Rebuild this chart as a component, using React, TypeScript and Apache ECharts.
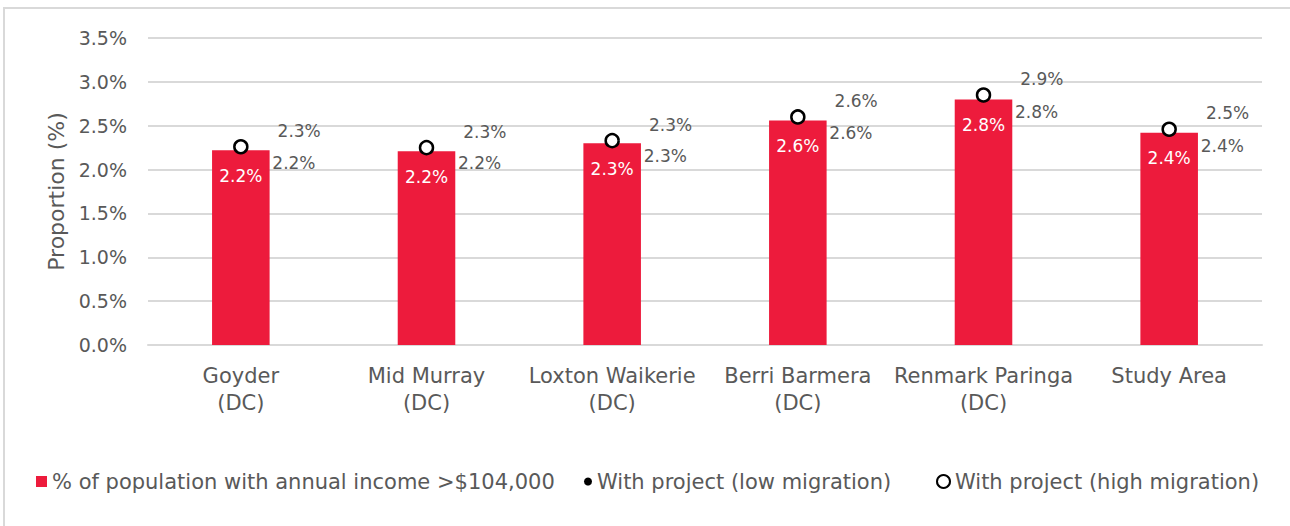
import React, { useEffect, useRef } from "react";
import * as echarts from "echarts";

const categories = [
  "Goyder\n(DC)",
  "Mid Murray\n(DC)",
  "Loxton Waikerie\n(DC)",
  "Berri Barmera\n(DC)",
  "Renmark Paringa\n(DC)",
  "Study Area",
];
const incomeShare = [2.22, 2.21, 2.3, 2.56, 2.8, 2.42];
const lowMigration = [2.24, 2.23, 2.31, 2.58, 2.82, 2.43];
const highMigration = [2.26, 2.25, 2.33, 2.6, 2.85, 2.46];
const yTicks = { min: 0, max: 3.5, interval: 0.5 };

const FONT = "DejaVu Sans";
const GREY = "#595959";

export default function App() {
  const ref = useRef<HTMLDivElement>(null);
  useEffect(() => {
    if (!ref.current) return;
    const chart = echarts.init(ref.current, null, { renderer: "svg" });
    const pct = (v: number) => v.toFixed(1) + "%";
    const legendText = { color: GREY, fontSize: 21, fontFamily: FONT };
    chart.setOption({
      animation: false,
      textStyle: { fontFamily: FONT },
      graphic: [
        {
          type: "rect",
          shape: { x: 4, y: 8, width: 1320, height: 600 },
          style: { fill: "none", stroke: "#d9d9d9", lineWidth: 2 },
          silent: true,
        },
      ],
      grid: { left: 148, right: 28, top: 38, bottom: 181 },
      xAxis: {
        type: "category",
        data: categories,
        axisLine: { lineStyle: { color: "#d9d9d9", width: 2 } },
        axisTick: { show: false },
        axisLabel: {
          color: GREY,
          fontSize: 21,
          fontFamily: FONT,
          lineHeight: 27,
          margin: 17,
          interval: 0,
        },
      },
      yAxis: {
        type: "value",
        min: yTicks.min,
        max: yTicks.max,
        interval: yTicks.interval,
        name: "Proportion (%)",
        nameLocation: "middle",
        nameGap: 78,
        nameTextStyle: { color: GREY, fontSize: 22, fontFamily: FONT },
        axisLabel: {
          color: GREY,
          fontSize: 19,
          fontFamily: FONT,
          margin: 21,
          formatter: (v: number) => v.toFixed(1) + "%",
        },
        splitLine: { lineStyle: { color: "#d9d9d9", width: 2 } },
        axisLine: { show: false },
        axisTick: { show: false },
      },
      legend: [
        {
          data: [{ name: "% of population with annual income >$104,000", icon: "rect" }],
          left: 36,
          top: 471,
          padding: 0,
          itemWidth: 11,
          itemHeight: 11,
          textStyle: legendText,
        },
        {
          data: [{ name: "With project (low migration)", icon: "circle" }],
          left: 584,
          top: 471,
          padding: 0,
          itemWidth: 8,
          itemHeight: 8,
          textStyle: legendText,
        },
        {
          data: [{ name: "With project (high migration)", icon: "circle" }],
          left: 936,
          top: 471,
          padding: 0,
          itemWidth: 13,
          itemHeight: 13,
          textStyle: legendText,
        },
      ],
      series: [
        {
          name: "% of population with annual income >$104,000",
          type: "bar",
          data: incomeShare,
          barWidth: "31%",
          itemStyle: { color: "#ED1B3C" },
          label: {
            show: true,
            position: "insideTop",
            distance: 17,
            color: "#ffffff",
            fontSize: 17,
            fontFamily: FONT,
            formatter: (p: any) => pct(p.value),
          },
        },
        {
          name: "With project (low migration)",
          type: "scatter",
          data: lowMigration,
          symbol: "circle",
          symbolSize: 9,
          itemStyle: { color: "#000000", opacity: 1 },
          z: 3,
          label: {
            show: true,
            position: "right",
            offset: [22, 14],
            color: GREY,
            fontSize: 17,
            fontFamily: FONT,
            formatter: (p: any) => pct(p.value),
          },
        },
        {
          name: "With project (high migration)",
          type: "scatter",
          data: highMigration,
          symbol: "circle",
          symbolSize: 13,
          itemStyle: { color: "#ffffff", borderColor: "#000000", borderWidth: 2.5, opacity: 1 },
          z: 4,
          label: {
            show: true,
            position: "right",
            offset: [24, -16],
            color: GREY,
            fontSize: 17,
            fontFamily: FONT,
            formatter: (p: any) => pct(p.value),
          },
        },
      ],
    });
    return () => chart.dispose();
  }, []);
  return (
    <div
      ref={ref}
      style={{ position: "fixed", left: 0, top: 0, width: 1290, height: 526, background: "#fff" }}
    />
  );
}
